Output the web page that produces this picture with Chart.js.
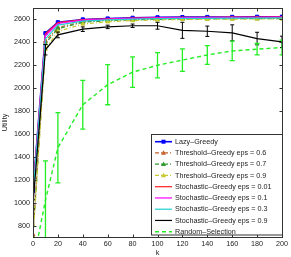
<!DOCTYPE html>
<html>
<head>
<meta charset="utf-8">
<script src="https://cdn.jsdelivr.net/npm/chart.js@4.4.1/dist/chart.umd.min.js"></script>
<style>
html,body{margin:0;padding:0;background:#fff;}
#wrap{position:relative;width:291px;height:257px;}
</style>
</head>
<body>
<div id="wrap"><canvas id="c" width="291" height="257"></canvas></div>
<script>
// ---- data ----
const kValues = [0, 10, 20, 40, 60, 80, 100, 120, 140, 160, 180, 200];
const xTicks = [0, 20, 40, 60, 80, 100, 120, 140, 160, 180, 200];
const yTicks = [800, 1000, 1200, 1400, 1600, 1800, 2000, 2200, 2400, 2600];

const lazyGreedy   = [1105, 2480, 2575, 2600, 2608, 2614, 2618, 2620, 2621, 2622, 2623, 2624];
const thresh06     = [720, 2410, 2530, 2580, 2594, 2600, 2604, 2607, 2608, 2609, 2610, 2611];
const thresh07     = [705, 2390, 2520, 2575, 2590, 2597, 2601, 2604, 2605, 2606, 2607, 2608];
const thresh09     = [700, 2340, 2495, 2560, 2580, 2590, 2596, 2600, 2602, 2603, 2604, 2605];
const stoch001     = [1100, 2475, 2572, 2598, 2606, 2612, 2616, 2618, 2619, 2620, 2621, 2622];
const stoch01      = [1090, 2460, 2565, 2594, 2603, 2610, 2614, 2616, 2617, 2618, 2619, 2620];
const stoch03      = [1080, 2430, 2550, 2585, 2596, 2603, 2607, 2609, 2610, 2611, 2612, 2613];
const stoch09      = [985, 2335, 2465, 2515, 2535, 2545, 2545, 2505, 2497, 2483, 2433, 2404];
const stoch09Err   = [40, 45, 25, 20, 15, 15, 30, 70, 45, 70, 55, 50];
const randomSel    = [470, 1020, 1480, 1855, 2030, 2140, 2200, 2245, 2290, 2325, 2340, 2355];
const randomSelErr = [0, 345, 307, 213, 175, 133, 110, 98, 82, 85, 50, 65];

const FONT = '"Liberation Sans", Arial, sans-serif';
const FS = 7.2;

function pts(arr) { return arr.map((v, i) => ({ x: kValues[i], y: v })); }

const series = [
  { label: 'Lazy–Greedy', data: lazyGreedy, color: '#0000ff', dash: [], marker: 'rect', width: 1.6 },
  { label: 'Threshold–Greedy eps = 0.6', data: thresh06, color: '#c4602c', dash: [4, 2, 1, 2], marker: 'triangle', width: 1.2 },
  { label: 'Threshold–Greedy eps = 0.7', data: thresh07, color: '#2f9a2f', dash: [4, 2, 1, 2], marker: 'triangle', width: 1.2 },
  { label: 'Threshold–Greedy eps = 0.9', data: thresh09, color: '#c8c832', dash: [4, 2, 1, 2], marker: 'triangle', width: 1.2 },
  { label: 'Stochastic–Greedy eps = 0.01', data: stoch001, color: '#ff2020', dash: [], marker: null, width: 1.2 },
  { label: 'Stochastic–Greedy eps = 0.1', data: stoch01, color: '#ff00ff', dash: [], marker: null, width: 1.2 },
  { label: 'Stochastic–Greedy eps = 0.3', data: stoch03, color: '#20d0d0', dash: [], marker: null, width: 1.2 },
  { label: 'Stochastic–Greedy eps = 0.9', data: stoch09, color: '#000000', dash: [], marker: null, width: 1.2, err: stoch09Err, cap: 2 },
  { label: 'Random–Selection', data: randomSel, color: '#22ee22', dash: [4, 3], marker: null, width: 1.4, err: randomSelErr, cap: 2.5 }
];

const datasets = series.map((s, i) => ({
  label: s.label,
  data: pts(s.data),
  borderColor: s.color,
  backgroundColor: s.color,
  borderWidth: s.width,
  borderDash: s.dash,
  pointStyle: s.marker || 'circle',
  pointRadius: s.marker ? 2.3 : 0,
  pointBorderWidth: 1,
  pointBackgroundColor: s.color,
  pointBorderColor: s.color,
  tension: 0,
  fill: false,
  order: series.length - i,
  errArr: s.err || null,
  capW: s.cap || 2
}));

const errorBars = {
  id: 'errorBars',
  afterDatasetsDraw(chart) {
    const { ctx, chartArea, scales: { x, y } } = chart;
    ctx.save();
    ctx.beginPath();
    ctx.rect(chartArea.left, chartArea.top, chartArea.right - chartArea.left, chartArea.bottom - chartArea.top);
    ctx.clip();
    chart.data.datasets.forEach(ds => {
      if (!ds.errArr) return;
      ctx.strokeStyle = ds.borderColor;
      ctx.lineWidth = ds.borderColor === '#000000' ? 1 : 1.3;
      ctx.setLineDash([]);
      ds.data.forEach((p, i) => {
        const e = ds.errArr[i];
        if (!e) return;
        const px = x.getPixelForValue(p.x);
        const y1 = y.getPixelForValue(p.y - e);
        const y2 = y.getPixelForValue(p.y + e);
        ctx.beginPath();
        ctx.moveTo(px, y1); ctx.lineTo(px, y2);
        ctx.moveTo(px - ds.capW, y1); ctx.lineTo(px + ds.capW, y1);
        ctx.moveTo(px - ds.capW, y2); ctx.lineTo(px + ds.capW, y2);
        ctx.stroke();
      });
    });
    ctx.restore();
  }
};

const boxTicks = {
  id: 'boxTicks',
  afterDraw(chart) {
    const { ctx, chartArea: a, scales: { x, y } } = chart;
    ctx.save();
    ctx.strokeStyle = '#333';
    ctx.lineWidth = 1;
    ctx.setLineDash([]);
    const L = Math.round(a.left) + 0.5, R = Math.round(a.right) + 0.5;
    const T = Math.round(a.top) + 0.5, B = Math.round(a.bottom) + 0.5;
    ctx.strokeRect(L, T, R - L, B - T);
    ctx.beginPath();
    xTicks.forEach(v => {
      const px = Math.round(x.getPixelForValue(v)) + 0.5;
      ctx.moveTo(px, B); ctx.lineTo(px, B - 3);
      ctx.moveTo(px, T); ctx.lineTo(px, T + 3);
    });
    yTicks.forEach(v => {
      const py = Math.round(y.getPixelForValue(v)) + 0.5;
      ctx.moveTo(L, py); ctx.lineTo(L + 3, py);
      ctx.moveTo(R, py); ctx.lineTo(R - 3, py);
    });
    ctx.stroke();
    ctx.restore();
  }
};

const legendBox = {
  id: 'legendBox',
  afterDraw(chart) {
    const { ctx } = chart;
    const bx = 151.5, by = 134.5, bw = 131, bh = 100.5;
    ctx.save();
    ctx.fillStyle = '#fff';
    ctx.fillRect(bx, by, bw, bh);
    ctx.strokeStyle = '#333';
    ctx.lineWidth = 1;
    ctx.setLineDash([]);
    ctx.strokeRect(bx, by, bw, bh);
    ctx.font = FS + 'px ' + FONT;
    ctx.textBaseline = 'middle';
    ctx.textAlign = 'left';
    series.forEach((s, i) => {
      const cy = 141.7 + i * 11.25;
      ctx.strokeStyle = s.color;
      ctx.lineWidth = s.width;
      ctx.setLineDash(s.dash);
      ctx.beginPath();
      ctx.moveTo(155, cy); ctx.lineTo(172, cy);
      ctx.stroke();
      ctx.setLineDash([]);
      if (s.marker === 'rect') {
        ctx.fillStyle = s.color;
        ctx.fillRect(161.5, cy - 2, 4, 4);
      } else if (s.marker === 'triangle') {
        ctx.fillStyle = s.color;
        ctx.beginPath();
        ctx.moveTo(163.5, cy - 2.6);
        ctx.lineTo(166, cy + 1.8);
        ctx.lineTo(161, cy + 1.8);
        ctx.closePath();
        ctx.fill();
      }
      ctx.fillStyle = '#222';
      ctx.fillText(s.label, 175, cy + 0.3);
    });
    ctx.restore();
  }
};

new Chart(document.getElementById('c'), {
  type: 'line',
  data: { datasets },
  options: {
    responsive: false,
    animation: false,
    devicePixelRatio: 1,
    layout: { padding: { top: 8, right: 8, left: 0, bottom: 0 } },
    plugins: { legend: { display: false }, tooltip: { enabled: false } },
    scales: {
      x: {
        type: 'linear', min: 0, max: 200,
        afterFit(s) { s.height = 20; },
        afterBuildTicks(s) { s.ticks = xTicks.map(v => ({ value: v })); },
        grid: { display: false, drawTicks: false },
        border: { display: false },
        ticks: { color: '#222', padding: 3, maxRotation: 0, autoSkip: false, font: { family: FONT, size: FS },
                 callback: v => String(v) },
        title: { display: true, text: 'k', color: '#222', padding: { top: 0, bottom: 0 }, font: { family: FONT, size: FS } }
      },
      y: {
        type: 'linear', min: 700, max: 2700,
        afterFit(s) { s.width = 33; },
        afterBuildTicks(s) { s.ticks = yTicks.map(v => ({ value: v })); },
        grid: { display: false, drawTicks: false },
        border: { display: false },
        ticks: { color: '#222', padding: 3, autoSkip: false, font: { family: FONT, size: FS },
                 callback: v => String(v) },
        title: { display: true, text: 'Utility', color: '#222', padding: { top: 1, bottom: 0 }, font: { family: FONT, size: FS } }
      }
    }
  },
  plugins: [errorBars, boxTicks, legendBox]
});
</script>
</body>
</html>
